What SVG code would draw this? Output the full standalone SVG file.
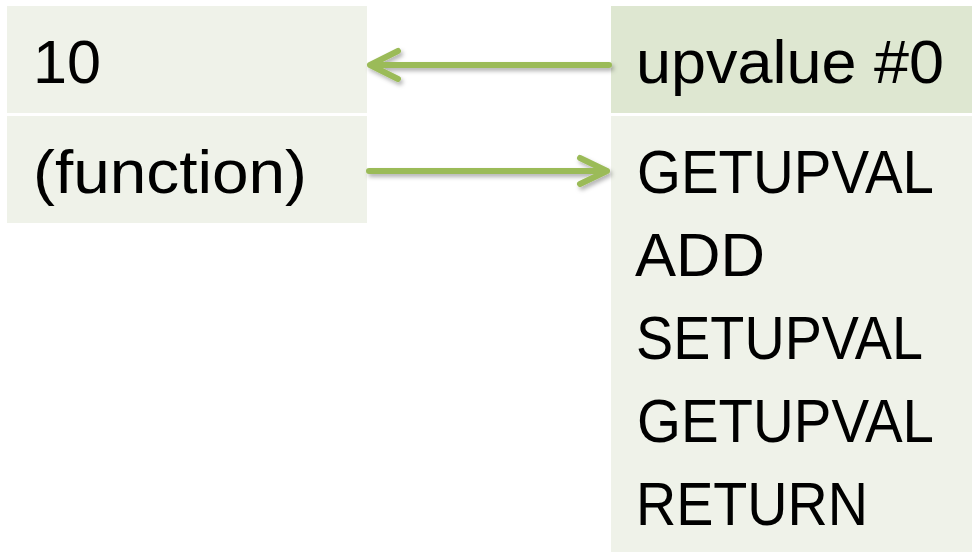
<svg xmlns="http://www.w3.org/2000/svg" width="972" height="552" viewBox="0 0 972 552">
<defs>
<style>
.box{fill:#EFF2E9;}
.boxd{fill:#DEE7D1;}
.t{font-family:"Liberation Sans",Arial,sans-serif;font-size:62px;fill:#000;}
.arr{stroke:#9BBB59;stroke-width:6;stroke-linecap:round;stroke-linejoin:round;fill:none;}
</style>
<filter id="sh" x="-10%" y="-50%" width="120%" height="200%">
<feDropShadow dx="2" dy="3" stdDeviation="2" flood-color="#000" flood-opacity="0.3"/>
</filter>
</defs>
<rect width="972" height="552" fill="#FFFFFF"/>
<g id="node-10">
<rect class="box" x="7" y="6" width="360" height="107"/>
<text class="t" x="33" y="83" textLength="68" lengthAdjust="spacingAndGlyphs">10</text>
</g>
<g id="node-function">
<rect class="box" x="7" y="116" width="360" height="107"/>
<text class="t" x="33" y="193" textLength="274" lengthAdjust="spacingAndGlyphs">(function)</text>
</g>
<g id="node-upvalue">
<rect class="boxd" x="611" y="6" width="361" height="107"/>
<text class="t" x="636" y="83" textLength="308" lengthAdjust="spacingAndGlyphs">upvalue #0</text>
</g>
<g id="node-code">
<rect class="box" x="611" y="116" width="361" height="436"/>
<text class="t" x="637" y="193" textLength="297" lengthAdjust="spacingAndGlyphs">GETUPVAL</text>
<text class="t" x="635" y="276" textLength="130" lengthAdjust="spacingAndGlyphs">ADD</text>
<text class="t" x="636" y="359" textLength="287" lengthAdjust="spacingAndGlyphs">SETUPVAL</text>
<text class="t" x="637" y="442" textLength="297" lengthAdjust="spacingAndGlyphs">GETUPVAL</text>
<text class="t" x="636" y="525" textLength="232" lengthAdjust="spacingAndGlyphs">RETURN</text>
</g>
<g id="connectors" filter="url(#sh)">
<path class="arr" d="M609 65 L370 65 M398 51 L370 65 L398 79"/>
<path class="arr" d="M369 171 L607 171 M580 158 L607 171 L580 184"/>
</g>
</svg>
